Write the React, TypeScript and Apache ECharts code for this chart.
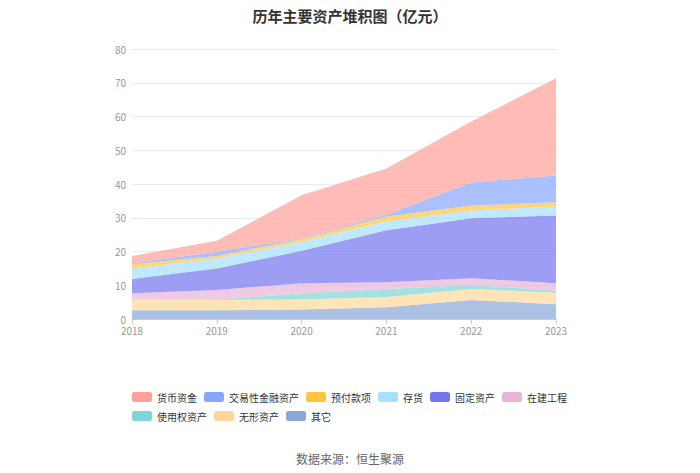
import React, { useEffect, useRef } from "react";
import * as echarts from "echarts";

const years = ["2018", "2019", "2020", "2021", "2022", "2023"];
const yTicks = [0, 10, 20, 30, 40, 50, 60, 70, 80];

// bottom to top stacking order
const qita = [2.6, 2.6, 2.8, 3.5, 5.6, 4.4];
const wuxing = [3.2, 3.0, 3.0, 3.0, 3.3, 3.4];
const shiyongquan = [0, 0.1, 1.8, 2.4, 1.2, 0.6];
const zaijian = [1.8, 2.9, 3.0, 2.0, 2.0, 2.2];
const guding = [4.25, 6.4, 9.6, 15.4, 17.75, 20.1];
const cunhuo = [3.15, 3.0, 2.7, 2.7, 2.3, 2.6];
const yufu = [1.2, 0.7, 0.8, 1.4, 1.5, 1.3];
const jiaoyi = [0.3, 1.2, 0.2, 0.6, 6.8, 7.9];
const huobi = [2.2, 3.3, 12.8, 13.6, 18.1, 28.8];

const seriesDefs = [
  { name: "其它", data: qita, color: "#88a8d8" },
  { name: "无形资产", data: wuxing, color: "#ffd899" },
  { name: "使用权资产", data: shiyongquan, color: "#7dd6d6" },
  { name: "在建工程", data: zaijian, color: "#e8b4d8" },
  { name: "固定资产", data: guding, color: "#7474ee" },
  { name: "存货", data: cunhuo, color: "#a6e0fc" },
  { name: "预付款项", data: yufu, color: "#ffc53d" },
  { name: "交易性金融资产", data: jiaoyi, color: "#87a6ff" },
  { name: "货币资金", data: huobi, color: "#ff9f98" },
];

const legendOrder = [
  "货币资金",
  "交易性金融资产",
  "预付款项",
  "存货",
  "固定资产",
  "在建工程",
  "使用权资产",
  "无形资产",
  "其它",
];

const FONT = "'Noto Sans CJK SC', 'Noto Sans', sans-serif";

export default function App() {
  const ref = useRef<HTMLDivElement>(null);
  useEffect(() => {
    if (!ref.current) return;
    const chart = echarts.init(ref.current, null, { renderer: "svg" });
    chart.setOption({
      animation: false,
      textStyle: { fontFamily: FONT },
      title: [
        {
          text: "历年主要资产堆积图（亿元）",
          left: "center",
          top: 3,
          textStyle: { fontSize: 15, fontWeight: "bold", color: "#333", fontFamily: FONT },
        },
        {
          text: "数据来源：恒生聚源",
          left: "center",
          top: 447,
          textStyle: { fontSize: 12, fontWeight: "normal", color: "#666", fontFamily: FONT },
        },
      ],
      legend: {
        data: legendOrder,
        left: 132,
        top: 391,
        width: 480,
        padding: 0,
        itemWidth: 20,
        itemHeight: 10,
        itemGap: 7,
        icon: "roundRect",
        textStyle: { fontSize: 10, lineHeight: 12, color: "#333", fontFamily: FONT },
      },
      grid: { left: 132, right: 144, top: 49, bottom: 154 },
      xAxis: {
        type: "category",
        data: years,
        boundaryGap: false,
        axisLine: { lineStyle: { color: "#ccc" } },
        axisTick: { show: true, lineStyle: { color: "#ccc" } },
        axisLabel: { color: "#999", fontSize: 10, margin: 6 },
      },
      yAxis: {
        type: "value",
        min: yTicks[0],
        max: yTicks[yTicks.length - 1],
        interval: 10,
        axisLine: { show: false },
        axisTick: { show: false },
        axisLabel: { color: "#999", fontSize: 10, margin: 6 },
        splitLine: { lineStyle: { color: "#e8ecf4" } },
      },
      series: seriesDefs.map((s) => ({
        name: s.name,
        type: "line",
        stack: "total",
        data: s.data,
        showSymbol: false,
        symbol: "none",
        lineStyle: { width: 0 },
        itemStyle: { color: s.color },
        areaStyle: { color: s.color, opacity: 0.7 },
      })),
    });
    return () => chart.dispose();
  }, []);
  return <div ref={ref} style={{ width: 700, height: 473, margin: -8 }} />;
}
